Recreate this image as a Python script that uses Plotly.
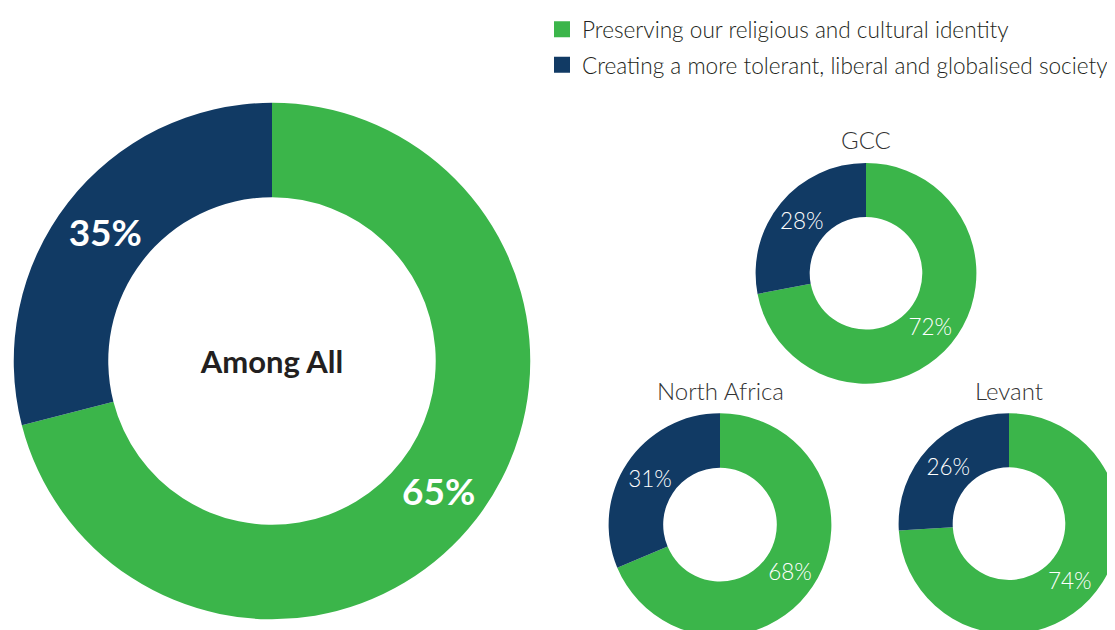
import plotly.graph_objects as go

# ---- data ----
labels = ["Preserving our religious and cultural identity",
          "Creating a more tolerant, liberal and globalised society"]
colors = ["#3BB54A", "#113A64"]

# "Among All": the drawn slices span ~71% / 29% of the ring, labelled 65% / 35%
all_slices = [71, 29]
all_text = ["65%", "35%"]
gcc_values = [72, 28]
na_values = [68, 31]
levant_values = [74, 26]

region_names = ["GCC", "North Africa", "Levant"]

W, H = 1115, 630
OFF = 8  # page body margin
FONT = "Lato"

def px_dom(x0, x1, ytop, ybot):
    x0, x1, ytop, ybot = x0 - OFF, x1 - OFF, ytop - OFF, ybot - OFF
    return dict(x=[max(0, x0 / W), min(1, x1 / W)],
                y=[max(0, (H - ybot) / H), min(1, (H - ytop) / H)])

fig = go.Figure()

# Big donut
fig.add_trace(go.Pie(
    labels=labels, values=all_slices, text=all_text, hole=0.634, sort=False,
    direction="clockwise", rotation=0,
    marker=dict(colors=colors, line=dict(width=0)),
    texttemplate="%{text}", textposition="inside",
    insidetextorientation="horizontal",
    textfont=dict(family=FONT, size=37, color="white", weight="bold"),
    title=dict(text="<b>Among All</b>", position="middle center",
               font=dict(family=FONT, size=31, color="#231F20")),
    domain=px_dom(10, 534, 95, 619),
    showlegend=False, hoverinfo="label",
))

small = [
    (gcc_values, px_dom(754, 978, 156, 380)),
    (na_values, px_dom(607, 833, 410, 636)),
    (levant_values, px_dom(897, 1121, 410, 634)),
]
for vals, dom in small:
    fig.add_trace(go.Pie(
        labels=labels, values=vals, hole=0.51, sort=False,
        direction="clockwise", rotation=0,
        marker=dict(colors=colors, line=dict(width=0)),
        texttemplate="%{value}%", textposition="inside",
        insidetextorientation="horizontal",
        textfont=dict(family=FONT, size=22.5, color="white", weight=300),
        domain=dom, showlegend=False, hoverinfo="label+value",
    ))

# Region titles
title_pos = [(866, 132), (720, 387), (1009, 387)]
for name, (cx, cy) in zip(region_names, title_pos):
    fig.add_annotation(text=name, x=(cx - OFF) / W, y=(H - cy + OFF) / H,
                       xref="paper", yref="paper",
                       showarrow=False, xanchor="center", yanchor="middle",
                       font=dict(family=FONT, size=24, color="#333333", weight=300))

# Legend entries
for i, (lab, col) in enumerate(zip(labels, colors)):
    fig.add_trace(go.Scatter(
        x=[None], y=[None], mode="markers", name=lab,
        marker=dict(symbol="square", size=16, color=col),
        legendgroup=f"g{i}", showlegend=True,
    ))

fig.update_layout(
    width=W, height=H,
    margin=dict(l=0, r=0, t=0, b=0),
    paper_bgcolor="white", plot_bgcolor="white",
    xaxis=dict(visible=False), yaxis=dict(visible=False),
    legend=dict(x=534 / W, xanchor="left", y=1 + 9 / H, yanchor="top",
                font=dict(family=FONT, size=22.6, color="#231F20", weight=300),
                tracegroupgap=3, bgcolor="rgba(0,0,0,0)"),
    font=dict(family=FONT),
)

fig.write_html("out.html")
